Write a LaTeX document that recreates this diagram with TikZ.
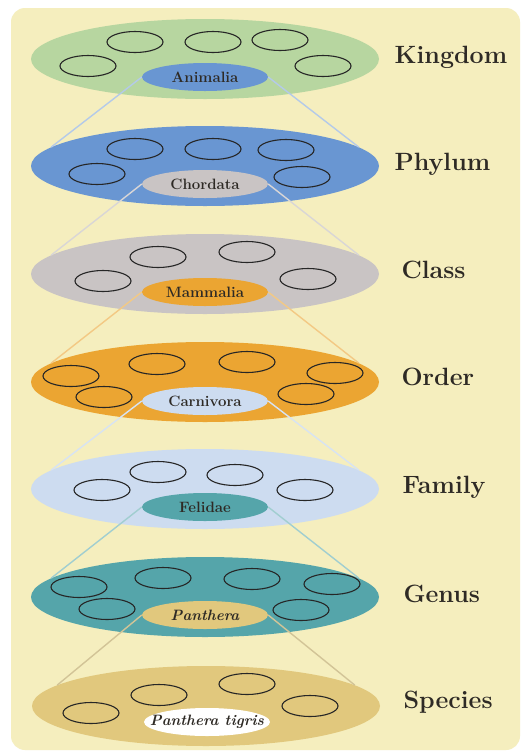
\documentclass[tikz,border=0pt]{standalone}
\usepackage{fontspec}
\usepackage{tikz}
\usetikzlibrary{shapes.geometric}
\usepackage{xcolor}

\definecolor{sfondo}{HTML}{F5EEBE}
\definecolor{verde}{HTML}{B7D6A0}
\definecolor{blu}{HTML}{6996D2}
\definecolor{grigio}{HTML}{C9C4C4}
\definecolor{arancio}{HTML}{EBA532}
\definecolor{azzurro}{HTML}{CDDCF0}
\definecolor{petrolio}{HTML}{55A5AA}
\definecolor{sabbia}{HTML}{E1C87D}
\definecolor{inchiostro}{HTML}{2E2A25}

\begin{document}
\begin{tikzpicture}[
  x=1pt, y=-1pt,
  livello/.style={ellipse, inner sep=0pt, minimum width=348pt, minimum height=80pt},
  taxon/.style={ellipse, inner sep=0pt, minimum width=126pt, minimum height=28pt},
  nome/.style={font=\fontsize{15}{15}\selectfont\bfseries, text=inchiostro},
  nomecorsivo/.style={nome, font=\fontsize{15}{15}\selectfont\bfseries\itshape},
  rango/.style={font=\fontsize{25}{25}\selectfont\bfseries, text=inchiostro, anchor=base west},
  cerchietto/.style={draw=black!85, line width=1.1pt},
  raccordo/.style={line width=1.4pt}
]

% cornice della pagina e sfondo giallo
\fill[white] (0,0) rectangle (526,756);
\useasboundingbox (0,0) rectangle (526,756);
\fill[sfondo, rounded corners=14pt] (11,8) rectangle (520,750);

% ---- Kingdom ---------------------------------------------------------
\node[livello, fill=verde] (regno) at (205,59) {};
\foreach \x/\y in {135/42, 213/42, 280/40, 88/66, 323/66}
  \draw[cerchietto] (\x,\y) ellipse [x radius=28, y radius=10.5];
\node[taxon, fill=blu, label={[nome]center:Animalia}] (animalia) at (205,77) {};
\node[rango] (lRegno) at (391,63) {Kingdom};

% ---- Phylum ----------------------------------------------------------
\node[livello, fill=blu] (phylum) at (205,166) {};
\draw[raccordo, blu!50!white] (animalia.west) -- (phylum.173);
\draw[raccordo, blu!50!white] (animalia.east) -- (phylum.7);
\foreach \x/\y in {135/149, 213/149, 286/150, 97/174, 302/177}
  \draw[cerchietto] (\x,\y) ellipse [x radius=28, y radius=10.5];
\node[taxon, fill=grigio, label={[nome]center:Chordata}] (chordata) at (205,184) {};
\node[rango] (lPhylum) at (391,170) {Phylum};

% ---- Class -----------------------------------------------------------
\node[livello, fill=grigio] (classe) at (205,274) {};
\draw[raccordo, grigio!70!white] (chordata.west) -- (classe.173);
\draw[raccordo, grigio!70!white] (chordata.east) -- (classe.7);
\foreach \x/\y in {158/257, 247/252, 103/281, 308/279}
  \draw[cerchietto] (\x,\y) ellipse [x radius=28, y radius=10.5];
\node[taxon, fill=arancio, label={[nome]center:Mammalia}] (mammalia) at (205,292) {};
\node[rango] (lClasse) at (398,278) {Class};

% ---- Order -----------------------------------------------------------
\node[livello, fill=arancio] (ordine) at (205,382) {};
\draw[raccordo, arancio!60!white] (mammalia.west) -- (ordine.173);
\draw[raccordo, arancio!60!white] (mammalia.east) -- (ordine.7);
\foreach \x/\y in {71/376, 157/364, 247/362, 335/373, 104/397, 306/394}
  \draw[cerchietto] (\x,\y) ellipse [x radius=28, y radius=10.5];
\node[taxon, fill=azzurro, label={[nome]center:Carnivora}] (carnivora) at (205,401) {};
\node[rango] (lOrdine) at (398,385) {Order};

% ---- Family ----------------------------------------------------------
\node[livello, fill=azzurro] (famiglia) at (205,489) {};
\draw[raccordo, azzurro!80!white] (carnivora.west) -- (famiglia.173);
\draw[raccordo, azzurro!80!white] (carnivora.east) -- (famiglia.7);
\foreach \x/\y in {158/472, 235/475, 102/490, 305/490}
  \draw[cerchietto] (\x,\y) ellipse [x radius=28, y radius=10.5];
\node[taxon, fill=petrolio, label={[nome]center:Felidae}] (felidae) at (205,507) {};
\node[rango] (lFamiglia) at (399,493) {Family};

% ---- Genus -----------------------------------------------------------
\node[livello, fill=petrolio] (genere) at (205,597) {};
\draw[raccordo, petrolio!55!white] (felidae.west) -- (genere.173);
\draw[raccordo, petrolio!55!white] (felidae.east) -- (genere.7);
\foreach \x/\y in {79/587, 163/578, 252/579, 332/584, 107/609, 301/610}
  \draw[cerchietto] (\x,\y) ellipse [x radius=28, y radius=10.5];
\node[taxon, fill=sabbia, label={[nomecorsivo]center:Panthera}] (panthera) at (205,615) {};
\node[rango] (lGenere) at (400,602) {Genus};

% ---- Species ---------------------------------------------------------
\node[livello, fill=sabbia] (specie) at (206,706) {};
\draw[raccordo, sabbia!85!black!70!white] (panthera.west) -- (specie.172);
\draw[raccordo, sabbia!85!black!70!white] (panthera.east) -- (specie.8);
\foreach \x/\y in {159/695, 247/684, 91/713, 310/706}
  \draw[cerchietto] (\x,\y) ellipse [x radius=28, y radius=10.5];
\node[taxon, fill=white, label={[nomecorsivo]center:Panthera tigris}] (tigris) at (207,722) {};
\node[rango] (lSpecie) at (400,708) {Species};

\end{tikzpicture}
\end{document}
